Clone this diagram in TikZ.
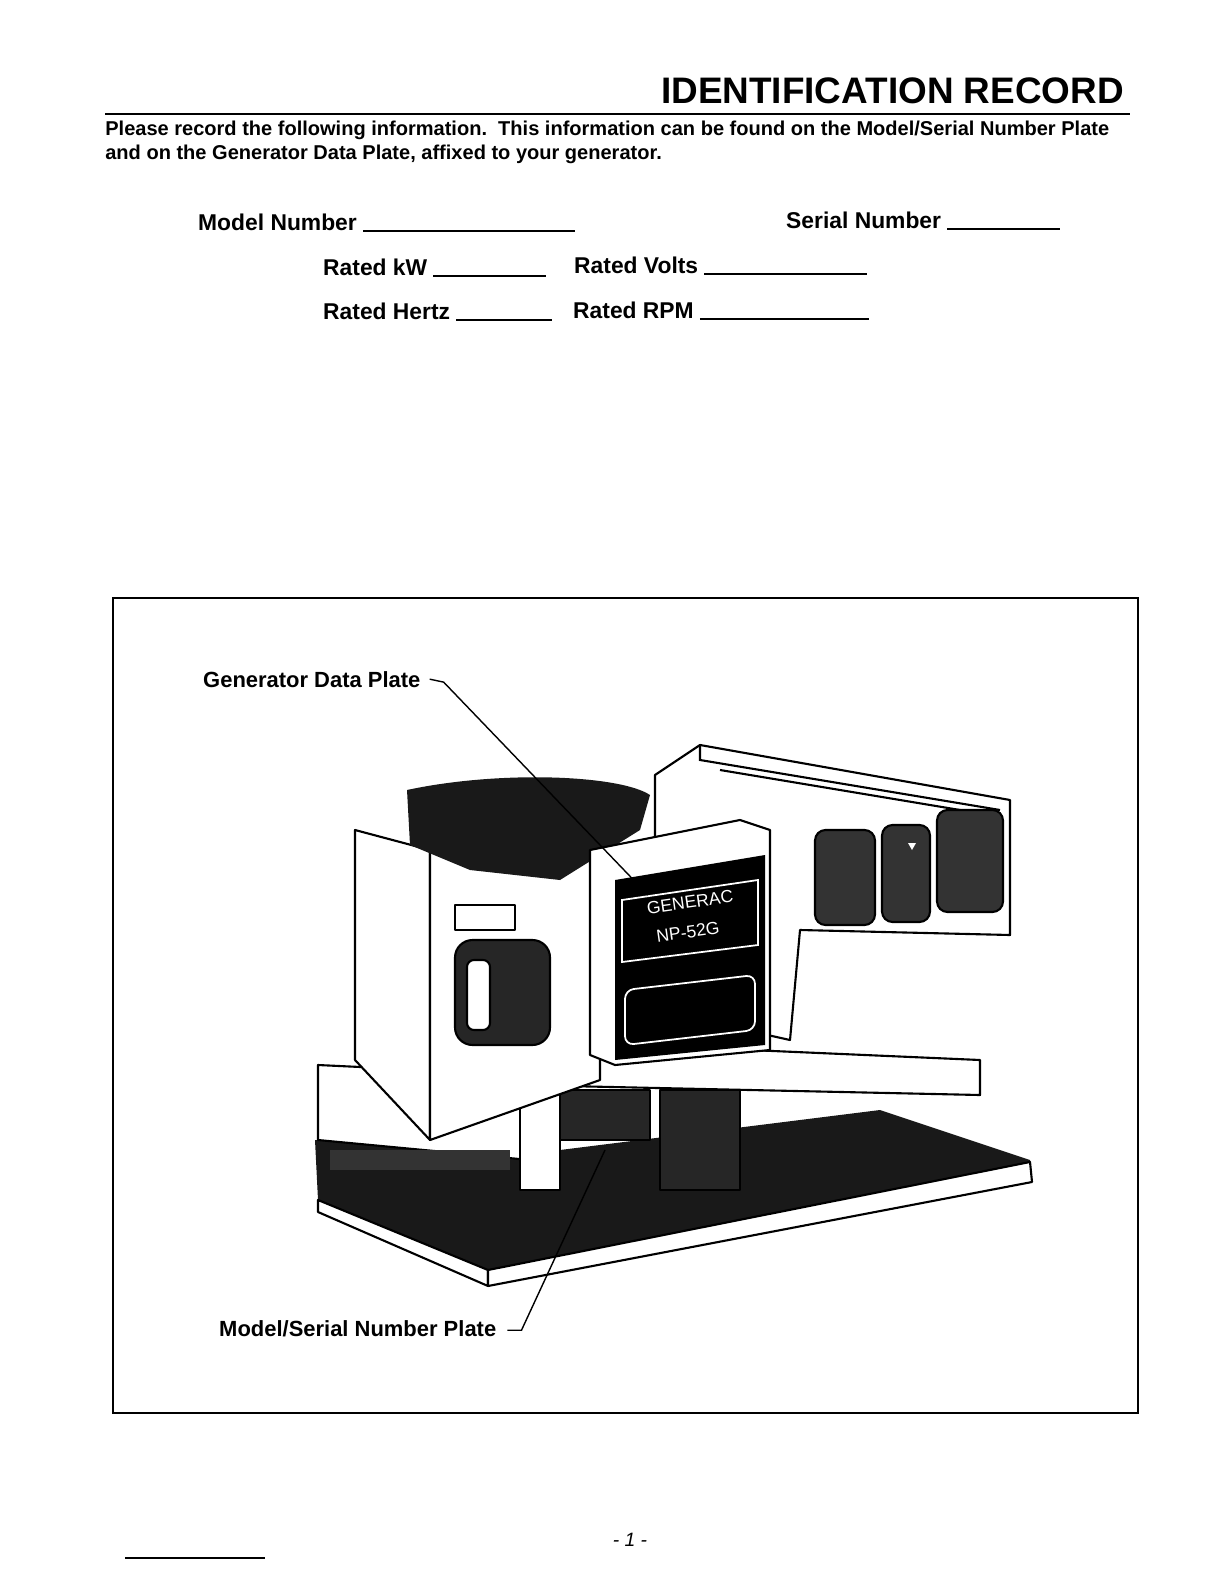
\documentclass[tikz,border=0pt]{standalone}
\usepackage{fontspec}
\setmainfont{Liberation Sans}
\usetikzlibrary{calc}

\begin{document}
\begin{tikzpicture}[x=0.02cm, y=-0.02cm]
        % Page frame in pixel units
        \useasboundingbox (0,0) rectangle (1224,1584);

        \tikzset{
            formtext/.style={anchor=base west, font=\fontsize{13}{15}\selectfont\bfseries},
            blank/.style={line width=0.8pt},
            part/.style={draw, line width=1.2pt, fill=white, line join=round},
            darkpart/.style={draw, line width=1.2pt, fill=black!85, line join=round},
            panel/.style={draw, line width=1.2pt, fill=black!80, rounded corners=6},
        }

        % Title and heading rule
        \node[anchor=base east, font=\fontsize{21}{23}\selectfont\bfseries] (title) at (1130,104) {IDENTIFICATION RECORD};
        \draw[line width=0.9pt] (105,114) -- (1130,114);
        \node[anchor=base west, font=\fontsize{11.4}{13}\selectfont\bfseries, inner sep=0pt] (intro1) at (105,136)
            {Please record the following information.\ \ This information can be found on the Model/Serial Number Plate};
        \node[anchor=base west, font=\fontsize{11.4}{13}\selectfont\bfseries, inner sep=0pt] (intro2) at (105,160)
            {and on the Generator Data Plate, affixed to your generator.};

        % Form fields
        \node[formtext] (model) at (192,231) {Model Number};
        \draw[blank] (model.base east) -- (575,231);
        \node[formtext] (serial) at (780,229) {Serial Number};
        \draw[blank] (serial.base east) -- (1060,229);
        \node[formtext] (kw) at (317,276) {Rated kW};
        \draw[blank] (kw.base east) -- (546,276);
        \node[formtext] (volts) at (568,274) {Rated Volts};
        \draw[blank] (volts.base east) -- (867,274);
        \node[formtext] (hertz) at (317,320) {Rated Hertz};
        \draw[blank] (hertz.base east) -- (552,320);
        \node[formtext] (rpm) at (567,319) {Rated RPM};
        \draw[blank] (rpm.base east) -- (869,319);

        % Figure frame
        \draw[line width=0.8pt] (113,598) rectangle (1138,1413);

        % Base skid
        \fill[black!90] (315,1140) -- (318,1200) -- (488,1286) -- (1032,1182) -- (1030,1160) -- (880,1110) -- (560,1150) -- cycle;
        \draw[part] (318,1200) -- (488,1270) -- (488,1286) -- (318,1212) -- cycle;
        \draw[part] (488,1270) -- (1030,1162) -- (1032,1182) -- (488,1286) -- cycle;
        \draw[part] (318,1065) -- (530,1075) -- (530,1160) -- (318,1140) -- cycle;
        \fill[black!80] (330,1150) rectangle (510,1170);

        % Right generator housing
        \draw[part] (655,775) -- (700,745) -- (1010,800) -- (1010,935) -- (800,930) -- (790,1040) -- (655,1010) -- cycle;
        \draw[line width=1.2pt] (700,745) -- (700,760) -- (1000,810);
        \draw[line width=1.2pt] (720,770) -- (990,815);
        \foreach \px/\py/\qx/\qy in {815/830/875/925, 882/825/930/922, 937/810/1003/912}
            \draw[panel] (\px,\py) rectangle (\qx,\qy);
        \fill[white] (908,843) -- (916,843) -- (912,850) -- cycle;

        % Frame rail and under parts
        \draw[part] (520,1040) -- (980,1060) -- (980,1095) -- (520,1085) -- cycle;
        \draw[darkpart] (660,1090) rectangle (740,1190);
        \draw[part] (520,1060) rectangle (560,1190);
        \draw[darkpart] (560,1090) rectangle (650,1140);

        % Left housing
        \draw[part] (355,830) -- (430,850) -- (430,1140) -- (355,1060) -- cycle;
        \draw[part] (430,850) -- (600,860) -- (600,1080) -- (430,1140) -- cycle;
        \fill[black!90] (407,790) .. controls (500,770) and (620,775) .. (650,795) -- (640,830) -- (560,880) -- (470,870) -- (410,845) -- cycle;
        \draw[darkpart, rounded corners=10] (455,940) rectangle (550,1045);
        \draw[part, rounded corners=4] (467,960) rectangle (490,1030);
        \draw[part] (455,905) rectangle (515,930);

        % Control box with data plate
        \draw[part] (590,850) -- (740,820) -- (770,830) -- (770,1050) -- (615,1065) -- (590,1055) -- cycle;
        \fill[black] (615,880) -- (765,855) -- (765,1045) -- (615,1060) -- cycle;
        \draw[white, line width=1pt] (622,900) -- (758,880) -- (758,945) -- (622,962) -- cycle;
        \node[white, font=\fontsize{10}{11}\selectfont, rotate=8, inner sep=0pt] (make) at (690,902) {GENERAC};
        \node[white, font=\fontsize{10}{11}\selectfont, rotate=8, inner sep=0pt] (type) at (688,932) {NP-52G};
        \draw[white, line width=1pt, rounded corners=5] (625,990) -- (755,975) -- (755,1030) -- (625,1045) -- cycle;

        % Callouts
        \node[anchor=base west, font=\fontsize{12.5}{14}\selectfont\bfseries] (dataplate) at (197,687) {Generator Data Plate};
        \coordinate (dataend) at (648,895);
        \draw[line width=0.8pt] (dataplate.east) ++(3,0) -- ++(14,3) -- (dataend);
        \node[anchor=base west, font=\fontsize{12.5}{14}\selectfont\bfseries] (serialplate) at (213,1336) {Model/Serial Number Plate};
        \coordinate (serialend) at (605,1150);
        \draw[line width=0.8pt] (serialplate.east) ++(5,2) -- ++(14,0) -- (serialend);

        % Page number and foot rule
        \node[font=\itshape\fontsize{11}{12}\selectfont] (pagenum) at (630,1540) {- 1 -};
        \draw[line width=0.6pt] (125,1558) -- (265,1558);
\end{tikzpicture}
\end{document}
